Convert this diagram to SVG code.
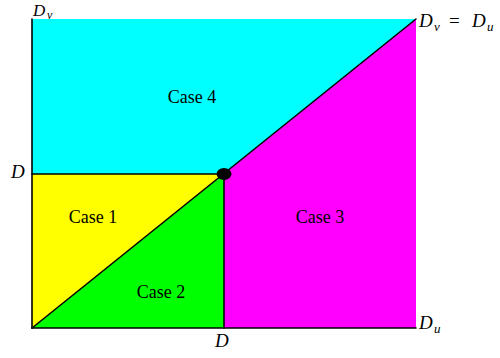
<svg xmlns="http://www.w3.org/2000/svg" width="500" height="358" viewBox="0 0 500 358">
<style>
.edge{stroke:#000;stroke-width:1.6;fill:none;stroke-linecap:round}
.lbl{font-family:"Liberation Serif",serif;font-size:18px;fill:#000;text-anchor:middle}
.m{font-family:"Liberation Serif",serif;font-style:italic;font-size:19px;fill:#000}
.sub{font-size:13px}
.r{font-family:"Liberation Serif",serif;font-size:19px;fill:#000}
</style>
<rect width="500" height="358" fill="#fff"/>
<g id="case4"><polygon points="32,19 416,19 224,174 32,174" fill="#00ffff"/><text class="lbl" x="192" y="103">Case 4</text></g>
<g id="case3"><polygon points="416,19 416,328 224,328 224,174" fill="#ff00ff"/><text class="lbl" x="320" y="223">Case 3</text></g>
<g id="case1"><polygon points="32,174 224,174 32,328" fill="#ffff00"/><text class="lbl" x="93" y="223">Case 1</text></g>
<g id="case2"><polygon points="224,174 224,328 32,328" fill="#00ff00"/><text class="lbl" x="161" y="298">Case 2</text></g>
<g id="connectors">
<line class="edge" x1="32" y1="19" x2="32" y2="328"/>
<line class="edge" x1="32" y1="328" x2="416" y2="328"/>
<line class="edge" x1="32" y1="328" x2="416" y2="19"/>
<line class="edge" x1="32" y1="174" x2="224" y2="174"/>
<line class="edge" x1="224" y1="174" x2="224" y2="328"/>
</g>
<g id="point"><ellipse cx="224" cy="174" rx="7.5" ry="6" fill="#000"/></g>
<g id="labels">
<text class="m" x="33" y="16" style="font-size:17px">D</text><text class="m sub" x="47" y="19" style="font-size:12px">v</text>
<text class="m" x="11" y="178">D</text>
<text class="m" x="215" y="347">D</text>
<text class="m" x="419" y="329">D</text><text class="m sub" x="434" y="333">u</text>
<text class="m" x="419" y="27">D</text><text class="m sub" x="434" y="31">v</text>
<text class="r" x="449" y="27">=</text>
<text class="m" x="472" y="27">D</text><text class="m sub" x="487" y="31">u</text>
</g>
</svg>
